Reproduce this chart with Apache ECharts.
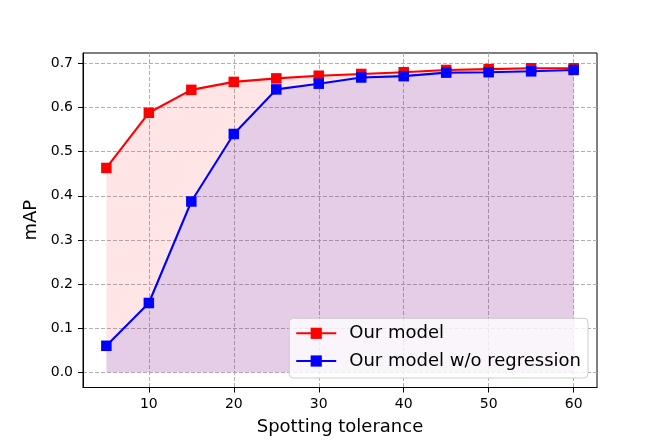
<!DOCTYPE html>
<html>
<head>
<meta charset="utf-8">
<script src="https://cdn.jsdelivr.net/npm/echarts@6/dist/echarts.min.js"></script>
<style>
html,body{margin:0;padding:0;background:#fff;}
#chart{width:664px;height:443px;}
</style>
</head>
<body>
<div id="chart"></div>
<script>
var tolerance = [5, 10, 15, 20, 25, 30, 35, 40, 45, 50, 55, 60];
var ourModel = [0.463, 0.588, 0.640, 0.658, 0.666, 0.672, 0.676, 0.680, 0.685, 0.687, 0.689, 0.689];
var noRegression = [0.060, 0.157, 0.387, 0.540, 0.641, 0.654, 0.668, 0.671, 0.679, 0.680, 0.682, 0.685];
var xTicks = [10, 20, 30, 40, 50, 60];
var yTicks = [0.0, 0.1, 0.2, 0.3, 0.4, 0.5, 0.6, 0.7];
var seriesNames = ['Our model', 'Our model w/o regression'];

function pairs(xs, ys) { return xs.map(function (x, i) { return [x, ys[i]]; }); }

var font = 'DejaVu Sans';
var chart = echarts.init(document.getElementById('chart'), null, {renderer: 'canvas'});
var gridLine = {show: true, lineStyle: {color: '#b0b0b0', width: 1, type: [4, 2]}};
chart.setOption({
  animation: false,
  backgroundColor: '#ffffff',
  textStyle: {fontFamily: font},
  grid: {left: 83, right: 67, top: 53, bottom: 55.5, show: true, borderColor: '#000', borderWidth: 1, backgroundColor: 'transparent'},
  xAxis: {
    type: 'value', min: 2.25, max: 62.75,
    name: 'Spotting tolerance', nameLocation: 'middle', nameGap: 30.5,
    nameTextStyle: {fontSize: 18, color: '#000', fontFamily: font},
    axisLine: {show: true, onZero: false, lineStyle: {color: '#000', width: 1}},
    axisTick: {show: true, length: 5, inside: false, lineStyle: {color: '#000'}, customValues: xTicks},
    axisLabel: {fontSize: 14, color: '#000', margin: 10, fontFamily: font, customValues: xTicks},
    splitLine: gridLine
  },
  yAxis: {
    type: 'value', min: -0.0345, max: 0.7235, splitNumber: 8,
    name: 'mAP', nameLocation: 'middle', nameGap: 41,
    nameTextStyle: {fontSize: 18, color: '#000', fontFamily: font},
    axisLine: {show: true, onZero: false, lineStyle: {color: '#000', width: 1}},
    axisTick: {show: true, length: 5, inside: false, lineStyle: {color: '#000'}, customValues: yTicks},
    axisLabel: {fontSize: 14, color: '#000', margin: 10, fontFamily: font, customValues: yTicks,
      formatter: function (v) { return v.toFixed(1); }},
    splitLine: gridLine
  },
  legend: {
    orient: 'vertical', right: 76, bottom: 65,
    data: seriesNames,
    itemWidth: 40, itemHeight: 14, itemGap: 7.7,
    padding: [5, 7, 7, 6],
    backgroundColor: 'rgba(255,255,255,0.8)', borderColor: '#cccccc', borderWidth: 1, borderRadius: 4,
    textStyle: {fontSize: 18, color: '#000', fontFamily: font, lineHeight: 20, padding: [0, 0, 0, 8]}
  },
  series: [
    {
      name: seriesNames[0], type: 'line', data: pairs(tolerance, ourModel),
      symbol: 'rect', symbolSize: 10.5, color: '#ff0000',
      lineStyle: {width: 2.1, color: '#ff0000'}, itemStyle: {color: '#ff0000'},
      areaStyle: {color: 'rgba(255,0,0,0.1)', opacity: 1}, z: 2
    },
    {
      name: seriesNames[1], type: 'line', data: pairs(tolerance, noRegression),
      symbol: 'rect', symbolSize: 10.5, color: '#0000ff',
      lineStyle: {width: 2.1, color: '#0000ff'}, itemStyle: {color: '#0000ff'},
      areaStyle: {color: 'rgba(0,0,255,0.1)', opacity: 1}, z: 3
    }
  ]
});
</script>
</body>
</html>
